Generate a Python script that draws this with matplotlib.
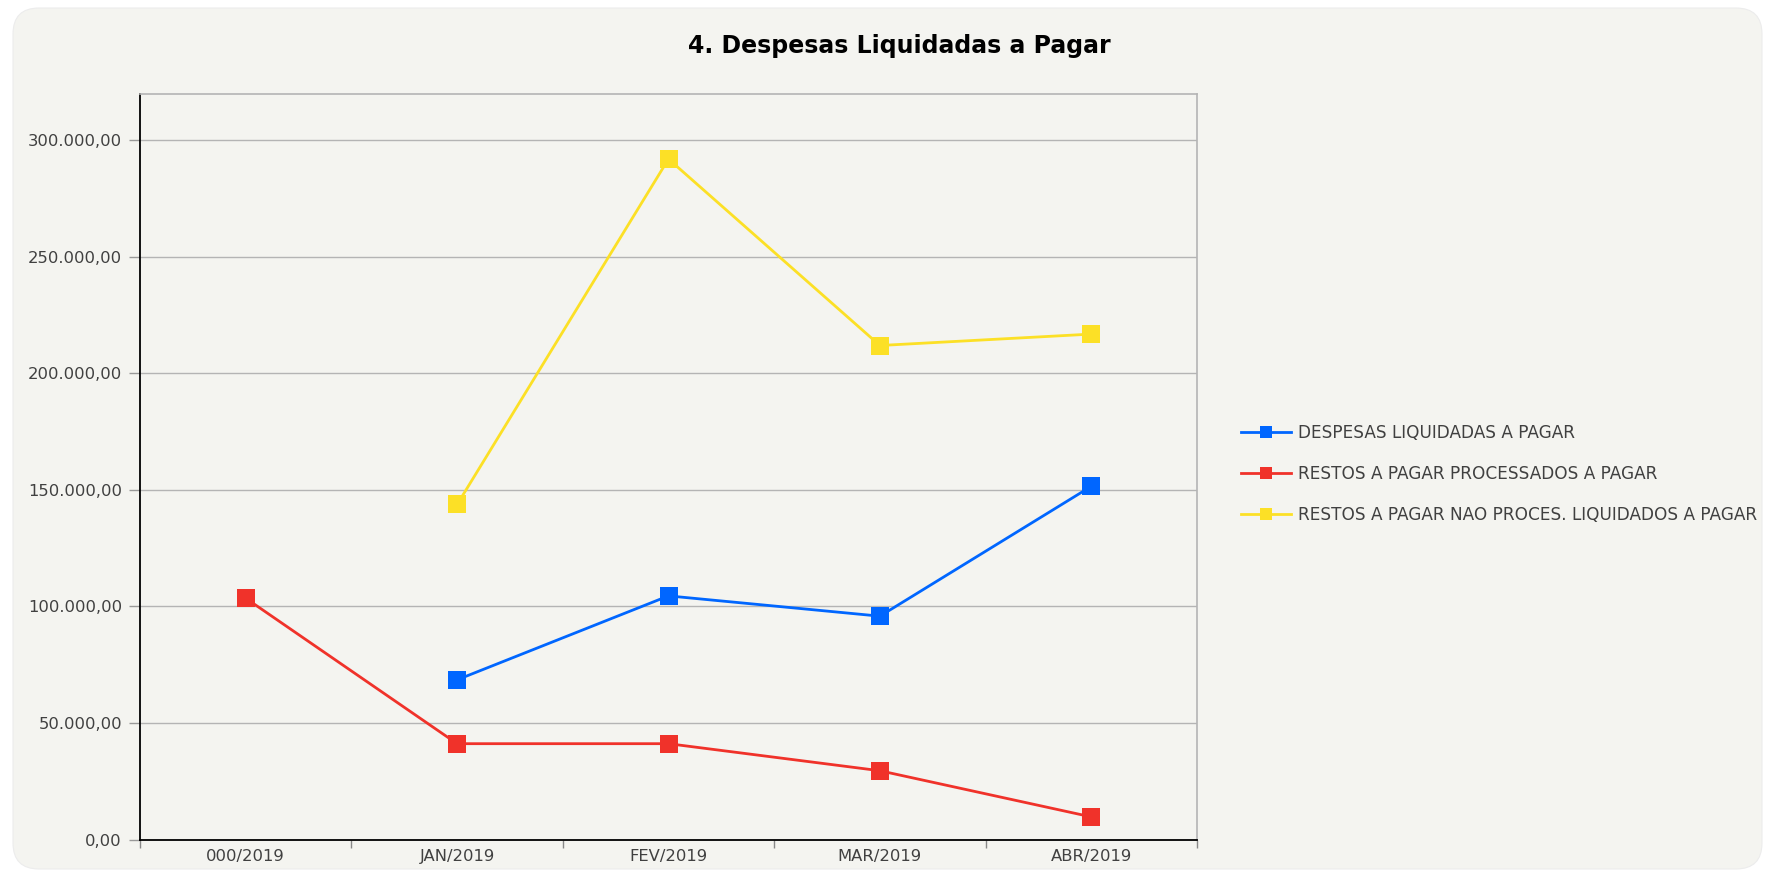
import numpy as np
import matplotlib
matplotlib.use("Agg")
import matplotlib.pyplot as plt
from matplotlib.patches import FancyBboxPatch
from matplotlib.transforms import IdentityTransform
from matplotlib.ticker import FuncFormatter, FixedLocator, MultipleLocator

categories = ["000/2019", "JAN/2019", "FEV/2019", "MAR/2019", "ABR/2019"]
despesas_liquidadas = [np.nan, 68500, 104500, 95800, 151500]
restos_processados = [103500, 41100, 41100, 29500, 9700]
restos_nao_processados = [np.nan, 143700, 291900, 211900, 216800]

series_names = [
    "DESPESAS LIQUIDADAS A PAGAR",
    "RESTOS A PAGAR PROCESSADOS A PAGAR",
    "RESTOS A PAGAR NAO PROCES. LIQUIDADOS A PAGAR",
]
series_values = [despesas_liquidadas, restos_processados, restos_nao_processados]
series_colors = ["#0066ff", "#f0322a", "#fce026"]

plt.rcParams["font.family"] = ["DejaVu Sans"]

W, H = 1769, 877
fig = plt.figure(figsize=(W / 100, H / 100), dpi=100, facecolor="white")

panel = FancyBboxPatch((13, 8), 1749, 861,
                       boxstyle="round,pad=0,rounding_size=26",
                       transform=IdentityTransform(),
                       facecolor="#f4f4f0", edgecolor="#ececec", linewidth=0.8,
                       zorder=-10)
fig.patches.append(panel)

ax = fig.add_axes([140 / W, 1 - 839.5 / H, (1197 - 140) / W, (839.5 - 93.5) / H])
ax.set_facecolor("#f4f4f0")

x = np.arange(len(categories))
for name, vals, col in zip(series_names, series_values, series_colors):
    ax.plot(x, vals, color=col, linewidth=2, marker="s", markersize=12.5,
            markeredgewidth=0, label=name, zorder=3)

ax.set_xlim(-0.5, len(categories) - 0.5)
ax.set_ylim(0, 320000)

ax.yaxis.set_major_locator(MultipleLocator(50000))


def br_fmt(v, pos):
    s = "{:,.2f}".format(v)
    return s.replace(",", "X").replace(".", ",").replace("X", ".")


ax.yaxis.set_major_formatter(FuncFormatter(br_fmt))
ax.grid(axis="y", color="#b4b4b4", linewidth=1.0, zorder=1)
ax.set_axisbelow(True)

ax.xaxis.set_major_locator(FixedLocator(np.arange(-0.5, len(categories), 1.0)))
ax.xaxis.set_minor_locator(FixedLocator(x))
ax.set_xticklabels([])
ax.set_xticklabels(categories, minor=True)
ax.tick_params(axis="x", which="major", length=6, width=1, color="#888888", direction="out")
ax.tick_params(axis="x", which="minor", length=0, pad=7, labelsize=11.8, labelcolor="#404040")
ax.tick_params(axis="y", which="major", length=8, width=1, color="#999999",
               pad=5, labelsize=11.8, labelcolor="#404040")

for side in ("top", "right"):
    ax.spines[side].set_color("#b4b4b4")
    ax.spines[side].set_linewidth(1.2)
for side in ("left", "bottom"):
    ax.spines[side].set_color("#000000")
    ax.spines[side].set_linewidth(1.3)

fig.text(899 / W, 1 - 46 / H, "4. Despesas Liquidadas a Pagar", ha="center", va="center",
         fontsize=17, fontweight="bold", color="#000000")

leg = ax.legend(loc="center left", bbox_to_anchor=(1226 / W, 1 - 474 / H),
                bbox_transform=fig.transFigure, frameon=False,
                fontsize=12.2, handlelength=2.95, handletextpad=0.4,
                labelspacing=1.38, markerscale=0.7)
for t in leg.get_texts():
    t.set_color("#404040")

fig.savefig("out.png", dpi=100, facecolor="white")
